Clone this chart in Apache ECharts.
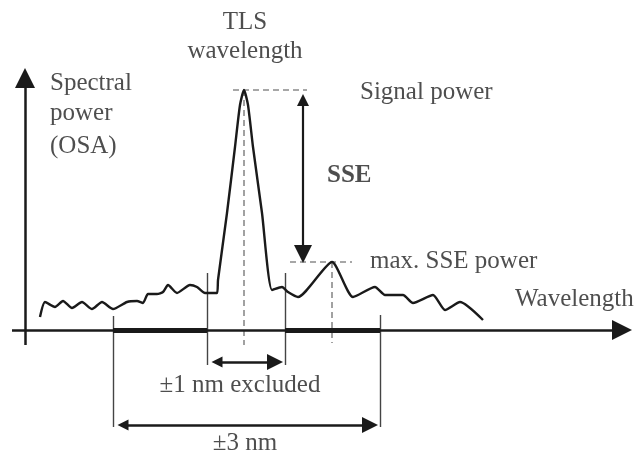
<!DOCTYPE html>
<html><head><meta charset="utf-8">
<script src="https://cdn.jsdelivr.net/npm/echarts@6/dist/echarts.min.js"></script>
<style>html,body{margin:0;padding:0;background:#fff}
#wrap{position:relative;width:634px;height:450px}
#c,#t{position:absolute;left:0;top:0;width:634px;height:450px}
#pre{position:absolute;left:0;top:0;visibility:hidden;font-family:'Liberation Serif';font-size:25px;white-space:nowrap}
#pre b{font-weight:bold}</style>
</head><body><div id="pre">Spectral power ±1 nm <b>SSE</b></div>
<div id="wrap"><div id="c"></div><div id="t"></div></div>
<script>
// ---- data (schematic units; origin at the axis crossing) ----
const wavelength = [15,20,30,38,47,57,67,77,88,102,112,118,123,132,138,143,152,165,172,180,192,193,202,210,215,219,223,228,237,247,257,263,273,307,328,350,360,378,388,408,420,435,458];
const power      = [13,28,23,29,22,28,21,28,21,28,29,27,36,36,38,45,37,45,43,37,37,50,117,183,225,240,225,183,117,40,43,38,33,68,33,43,35,35,27,35,20,28,10];
const tlsWavelength = 219;
const signalPower = 240;
const sseWavelength = 307;
const maxSsePower = 68;
const excludedRange = [182, 260];   // ±1 nm
const windowRange = [88, 355];      // ±3 nm
const labelTexts = ['TLS', 'wavelength', 'Spectral', 'power', '(OSA)', 'Signal power', 'SSE', 'max. SSE power', 'Wavelength', '±1 nm excluded', '±3 nm'];

// ---- layout ----
const FONT = 'Liberation Serif';
const FS = 25;
const labelPos = [[220,308],[220,279],[20,247],[20,217],[20,184],[330,238],[297,154],[340,69],[485,31],[215,-55],[220,-113]];
const labelAlign = ['c','c','l','l','l','l','l','l','l','c','c'];
const sseArrowX = 278;

void document.getElementById('pre').offsetWidth;

const ink = '#1a1a1a';
const dash = {color:'#8a8a8a', width:1.6, type:[6,4]};
const frame = {
  grid:{left:0,right:0,top:0,bottom:0},
  xAxis:{type:'value',min:-25,max:609,show:false},
  yAxis:{type:'value',min:-120,max:330,show:false}
};
function seg(a,b){return {coords:[a,b]};}

const chart = echarts.init(document.getElementById('c'));
const textChart = echarts.init(document.getElementById('t'));

function markOption(){
  return Object.assign({animation:false, backgroundColor:'#fff', series:[
    {type:'lines',coordinateSystem:'cartesian2d',silent:true,
     lineStyle:{color:'#444',width:1.4,opacity:1},
     data:[seg([windowRange[0],14],[windowRange[0],-97]),seg([excludedRange[0],57],[excludedRange[0],-35]),
           seg([excludedRange[1],57],[excludedRange[1],-35]),seg([windowRange[1],15],[windowRange[1],-97])]},
    {type:'lines',coordinateSystem:'cartesian2d',silent:true,lineStyle:Object.assign({opacity:1},dash),
     data:[seg([tlsWavelength-11,signalPower],[tlsWavelength+63,signalPower]),
           seg([tlsWavelength,signalPower],[tlsWavelength,-15]),
           seg([sseWavelength-42,maxSsePower],[sseWavelength+20,maxSsePower]),
           seg([sseWavelength,maxSsePower],[sseWavelength,-13])]},
    {type:'lines',coordinateSystem:'cartesian2d',silent:true,lineStyle:{color:ink,width:5,opacity:1},
     data:[seg([windowRange[0],0],[excludedRange[0],0]),seg([excludedRange[1],0],[windowRange[1],0])]},
    {type:'lines',coordinateSystem:'cartesian2d',silent:true,lineStyle:{color:ink,width:2.5,opacity:1},
     symbol:['none','triangle'],symbolSize:[15,20],
     data:[seg([0,-15],[0,252]),seg([-13,0],[597,0])]},
    {type:'lines',coordinateSystem:'cartesian2d',silent:true,lineStyle:{color:ink,width:2.2,opacity:1},
     symbol:['triangle','triangle'],symbolSize:[12,18],
     data:[seg([sseArrowX,signalPower-10],[sseArrowX,maxSsePower+8])]},
    {type:'lines',coordinateSystem:'cartesian2d',silent:true,lineStyle:{color:ink,width:2.5,opacity:1},
     symbol:['triangle','triangle'],symbolSize:[11,16],
     data:[seg([excludedRange[0]+10,-32],[excludedRange[1]-10,-32]),
           seg([windowRange[0]+10,-95],[windowRange[1]-10,-95])]},
    {type:'line',silent:true,showSymbol:false,smooth:0.2,
     lineStyle:{color:ink,width:2.4},
     data:wavelength.map((w,i)=>[w,power[i]])}
  ]}, frame);
}

function textOption(){
  const labelData = labelTexts.map((t,i)=>{
    const lab = {show:true, position: labelAlign[i]==='c' ? 'inside' : 'right',
                 formatter:t, fontFamily:FONT, fontSize:FS, color:'#222'};
    if (t === 'SSE') lab.fontWeight = 'bold';
    return {value: labelPos[i], label: lab};
  });
  return Object.assign({animation:false, series:[
    {type:'scatter',silent:true,symbolSize:0,data:labelData}
  ]}, frame);
}

function draw(){
  chart.setOption(markOption(), true);
  textChart.clear();
  textChart.setOption(textOption(), true);
}
draw();
if (document.fonts) {
  document.fonts.load('25px "Liberation Serif"').then(draw).catch(()=>{});
}
setTimeout(draw, 100);
</script></body></html>
